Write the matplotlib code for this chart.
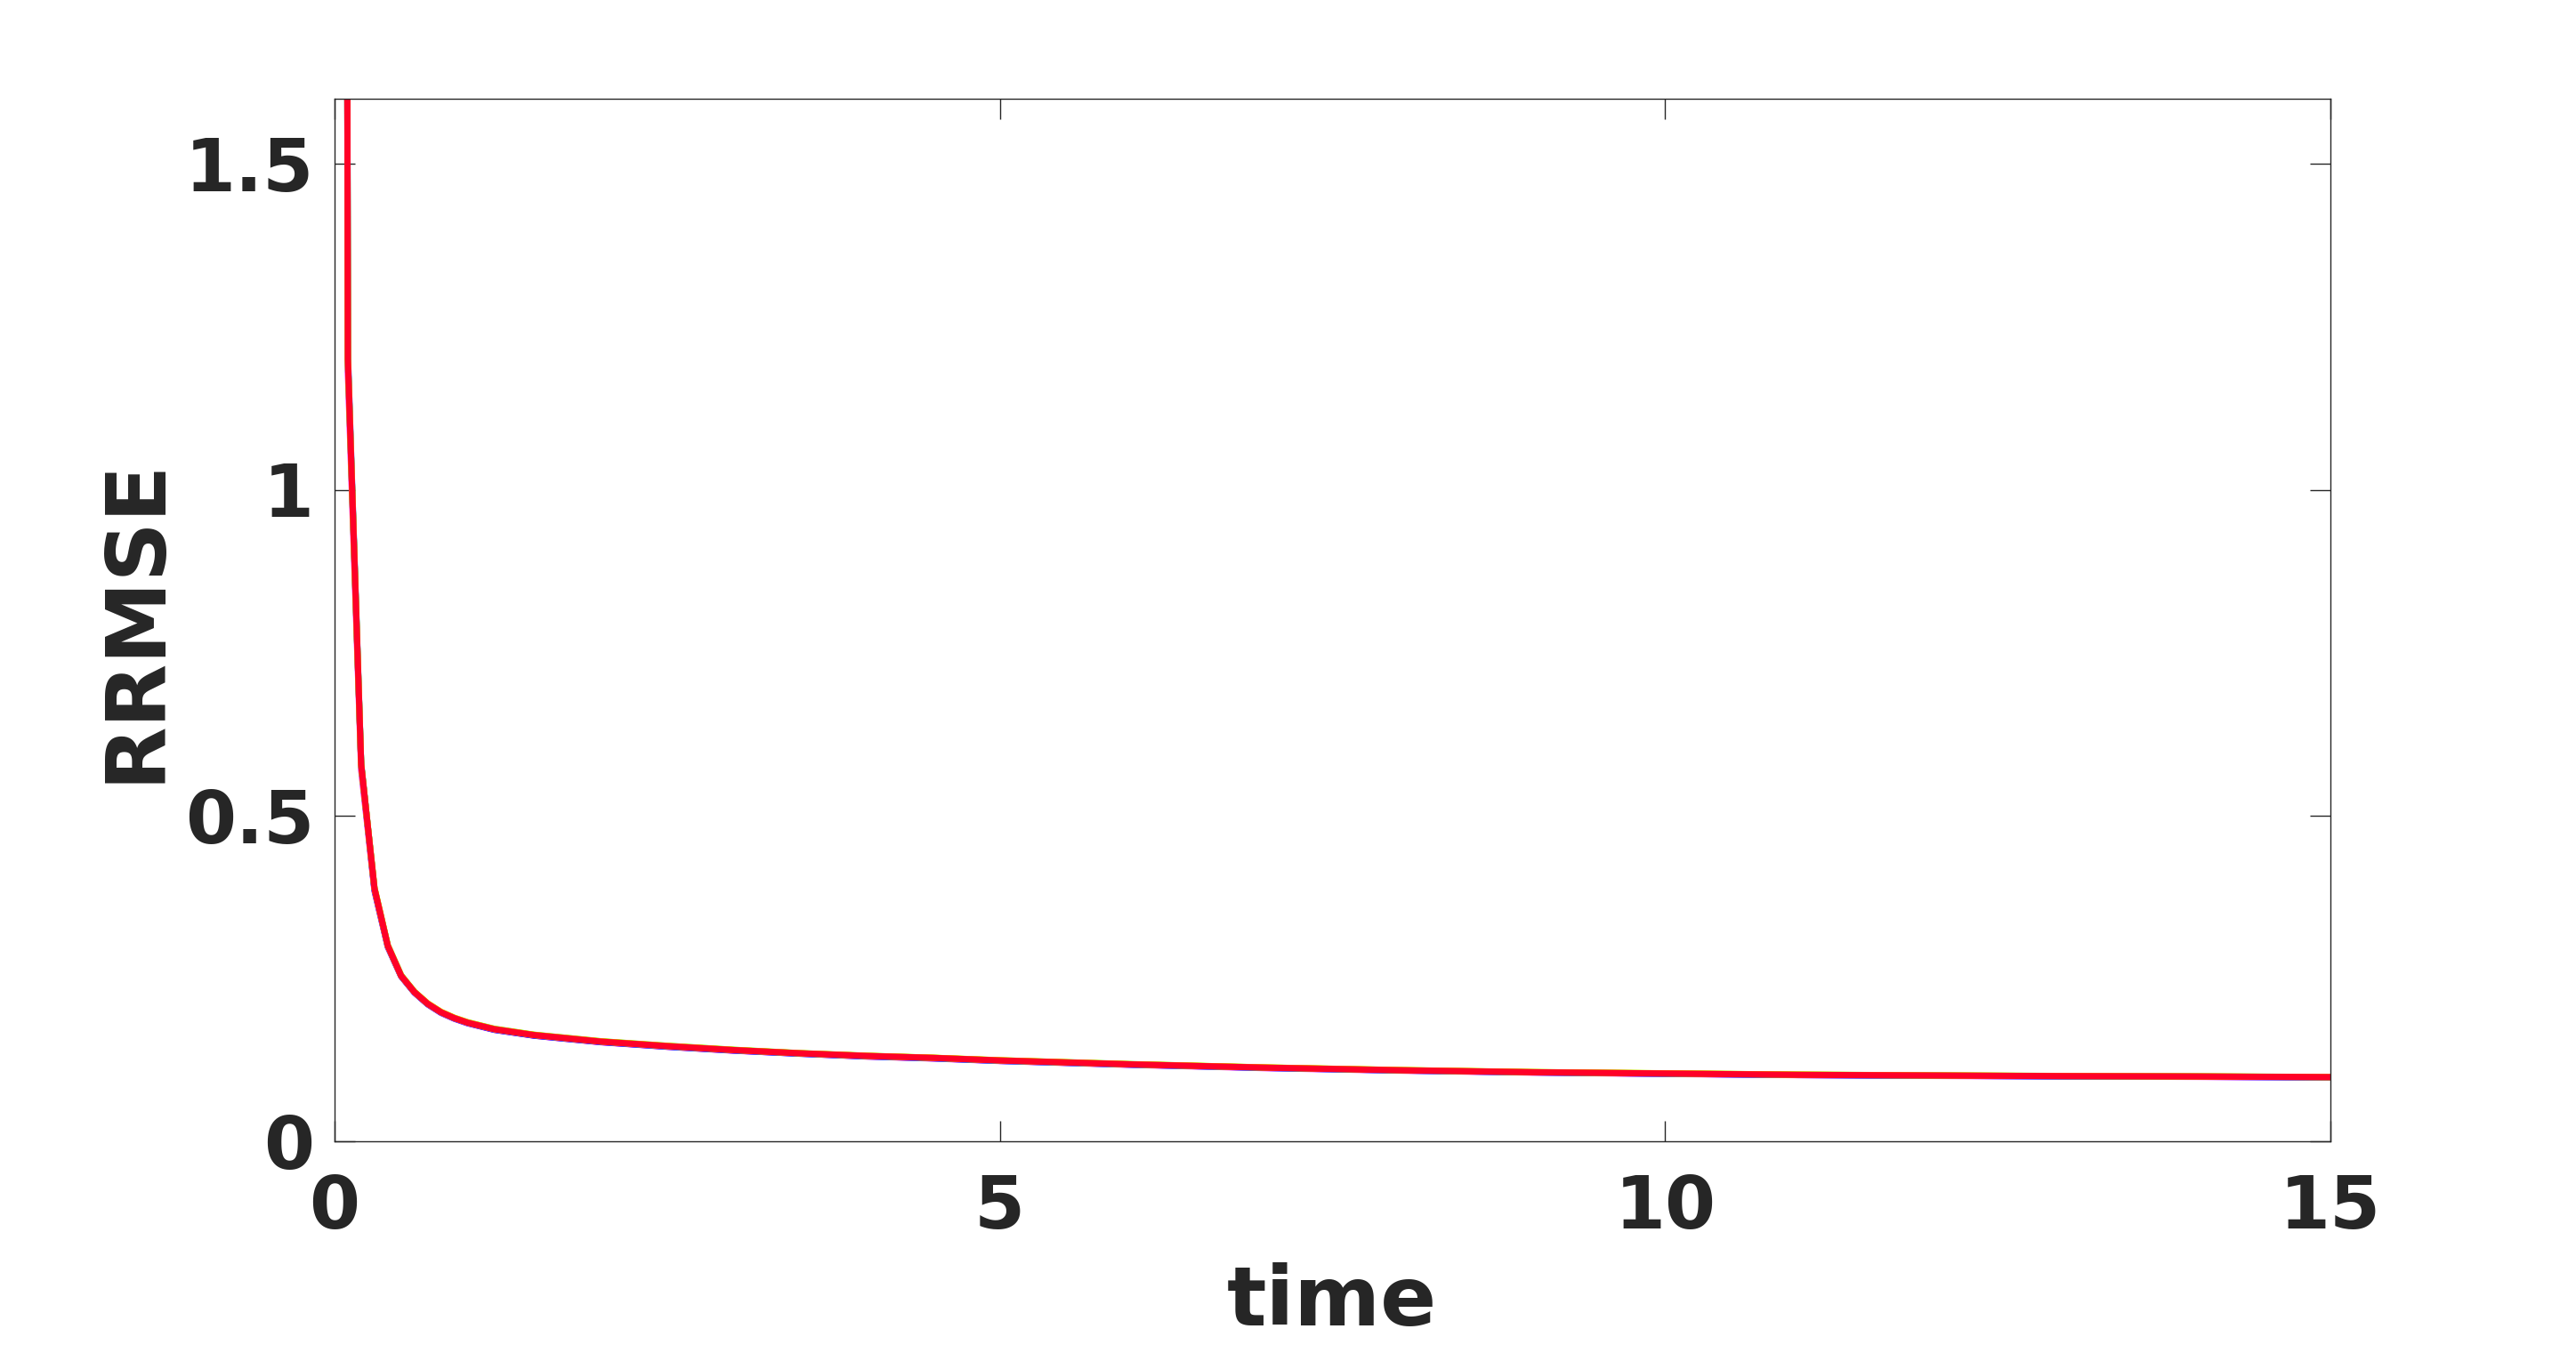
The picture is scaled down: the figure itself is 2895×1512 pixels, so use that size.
import matplotlib
matplotlib.use('Agg')
import matplotlib.pyplot as plt

# ---- data ----
time = [0, 0.1, 0.2, 0.3, 0.4, 0.5, 0.6, 0.7, 0.8, 0.9, 1.0, 1.2, 1.5, 2.0, 2.5,
        3.0, 3.5, 4.0, 4.5, 5.0, 6, 7, 8, 9, 10, 11, 12, 13, 14, 15]

rrmse_red = [12, 1.20, 0.578, 0.388, 0.300, 0.254, 0.229, 0.211, 0.198, 0.189,
             0.182, 0.172, 0.163, 0.153, 0.146, 0.140, 0.135, 0.131, 0.128, 0.124,
             0.118, 0.113, 0.109, 0.106, 0.104, 0.102, 0.101, 0.100, 0.0995, 0.0985]

rrmse_magenta = [12, 1.18, 0.570, 0.384, 0.298, 0.253, 0.228, 0.210, 0.197, 0.188,
                 0.181, 0.171, 0.162, 0.152, 0.145, 0.139, 0.1345, 0.130, 0.127, 0.1232,
                 0.1172, 0.1122, 0.1084, 0.1054, 0.1033, 0.1015, 0.1003, 0.0994, 0.0988, 0.0978]
rrmse_blue = [12, 1.21, 0.580, 0.386, 0.299, 0.2535, 0.2285, 0.2105, 0.1975, 0.1885,
              0.1815, 0.1712, 0.1622, 0.1523, 0.1452, 0.1393, 0.1343, 0.1303, 0.1273, 0.1234,
              0.1175, 0.1126, 0.1087, 0.1057, 0.1036, 0.1016, 0.1006, 0.0996, 0.0990, 0.0981]
rrmse_green = [12, 1.20, 0.579, 0.389, 0.301, 0.255, 0.2295, 0.2115, 0.1985, 0.1895,
               0.1827, 0.1727, 0.1636, 0.1536, 0.1466, 0.1405, 0.1353, 0.1313, 0.1282, 0.1243,
               0.1184, 0.1133, 0.1093, 0.1062, 0.1043, 0.1024, 0.1012, 0.1003, 0.0997, 0.0987]
rrmse_cyan = [12, 1.20, 0.577, 0.387, 0.2995, 0.2538, 0.2288, 0.2108, 0.1978, 0.1888,
              0.1818, 0.1718, 0.1628, 0.1528, 0.1457, 0.1397, 0.1348, 0.1307, 0.1276, 0.1236,
              0.1177, 0.1127, 0.1088, 0.1058, 0.1038, 0.1018, 0.1007, 0.0997, 0.0992, 0.0983]
rrmse_yellow = [12, 1.20, 0.578, 0.389, 0.3005, 0.2545, 0.2295, 0.2118, 0.1988, 0.1897,
                0.1826, 0.1724, 0.1634, 0.1534, 0.1464, 0.1403, 0.1352, 0.1312, 0.1283, 0.1244,
                0.1182, 0.1134, 0.1094, 0.1063, 0.1044, 0.1023, 0.1011, 0.1002, 0.0996, 0.0986]
rrmse_orange = [12, 1.20, 0.578, 0.388, 0.3002, 0.2542, 0.2292, 0.2112, 0.1983, 0.1893,
                0.1823, 0.1722, 0.1632, 0.1532, 0.1462, 0.1401, 0.1351, 0.1311, 0.1281, 0.1242,
                0.1181, 0.1132, 0.1092, 0.1061, 0.1042, 0.1022, 0.1010, 0.1001, 0.0994, 0.0984]

x_ticks = [0, 5, 10, 15]
x_tick_labels = ['0', '5', '10', '15']
y_ticks = [0, 0.5, 1, 1.5]
y_tick_labels = ['0', '0.5', '1', '1.5']

ink = '#262626'

W, H = 2895, 1512
fig = plt.figure(figsize=(W / 100, H / 100), dpi=100)
fig.patch.set_facecolor('white')
L, R, T, B = 376, 2619, 111, 1283
ax = fig.add_axes([L / W, 1 - B / H, (R - L) / W, (B - T) / H])

under = [(rrmse_magenta, '#ff00ff'), (rrmse_blue, '#0000ff'), (rrmse_green, '#33ff00'),
         (rrmse_cyan, '#00e5ff'), (rrmse_yellow, '#ffee00'), (rrmse_orange, '#ff8c00')]
for vals, c in under:
    ax.plot(time, vals, color=c, lw=5)
ax.plot(time, rrmse_red, color='#ff0028', lw=5)

ax.set_xlim(0, 15)
ax.set_ylim(0, 1.6)
ax.set_xticks(x_ticks)
ax.set_xticklabels(x_tick_labels, fontweight='bold', color=ink)
ax.set_yticks(y_ticks)
ax.set_yticklabels(y_tick_labels, fontweight='bold', color=ink)
ax.tick_params(axis='both', direction='in', length=16.5, width=1.0, color=ink,
               top=True, right=True, labelsize=59)
ax.tick_params(axis='x', pad=26)
ax.tick_params(axis='y', pad=16.5)
for s in ax.spines.values():
    s.set_linewidth(1.0)
    s.set_color(ink)

fig.text(1497 / W, 1 - 1490 / H, 'time', ha='center', va='baseline',
         fontsize=67, fontweight='bold', color=ink)
fig.text(179 / W, 1 - 697 / H, 'RRMSE', ha='center', va='baseline', rotation=90,
         rotation_mode='anchor', fontsize=67, fontweight='bold', color=ink)

fig.savefig('out.png', dpi=100, facecolor='white')
